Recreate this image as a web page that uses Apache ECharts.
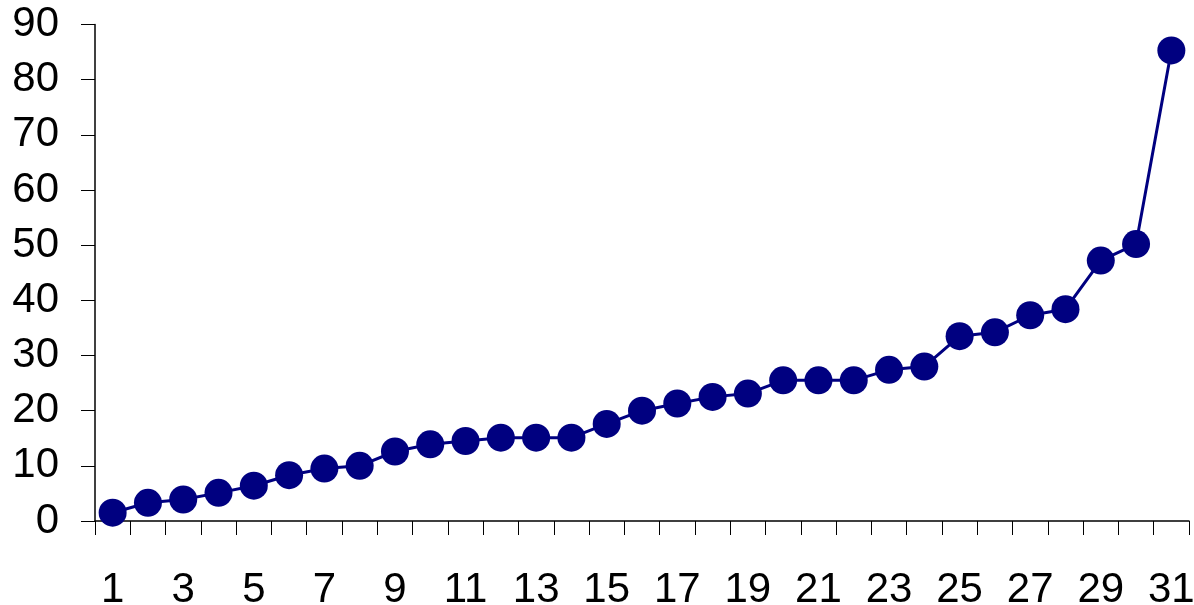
<!DOCTYPE html>
<html>
<head>
<meta charset="utf-8">
<script src="https://cdn.jsdelivr.net/npm/echarts@6/dist/echarts.min.js"></script>
<style>
html,body{margin:0;padding:0;background:#fff;}
#chart{width:1194px;height:605px;}
</style>
</head>
<body>
<div id="chart"></div>
<script>
var categories = ['1','2','3','4','5','6','7','8','9','10','11','12','13','14','15','16','17','18','19','20','21','22','23','24','25','26','27','28','29','30','31'];
var values = [1.5,3.3,3.9,5.1,6.4,8.3,9.5,10.0,12.6,13.9,14.5,15.1,15.1,15.1,17.6,20.0,21.3,22.5,23.1,25.5,25.5,25.5,27.4,28.0,33.5,34.2,37.3,38.4,47.2,50.2,85.3];
var yMin = 0, yMax = 90, yStep = 10;

var chart = echarts.init(document.getElementById('chart'), null, {renderer:'canvas'});
chart.setOption({
  animation: false,
  backgroundColor: '#ffffff',
  grid: {left: 95, right: 5, top: 24.5, bottom: 84, containLabel: false, outerBoundsMode: 'none'},
  xAxis: {
    type: 'category',
    data: categories,
    boundaryGap: true,
    axisLine: {show: true, lineStyle: {color: '#000', width: 1.5}},
    axisTick: {show: true, interval: 0, length: 14, inside: false, alignWithLabel: false, lineStyle: {color: '#000', width: 1}},
    axisLabel: {interval: 1, margin: 48, color: '#000', fontSize: 42, fontFamily: 'Liberation Sans, Arial, sans-serif'},
    splitLine: {show: false}
  },
  yAxis: {
    type: 'value',
    min: yMin, max: yMax, interval: yStep,
    axisLine: {show: true, lineStyle: {color: '#000', width: 1.5}},
    axisTick: {show: true, length: 14, lineStyle: {color: '#000', width: 1}},
    axisLabel: {margin: 36, color: '#000', fontSize: 42, fontFamily: 'Liberation Sans, Arial, sans-serif'},
    splitLine: {show: false}
  },
  series: [{
    type: 'line',
    data: values,
    symbol: 'circle',
    symbolSize: 28,
    showAllSymbol: true,
    lineStyle: {color: '#000080', width: 3},
    itemStyle: {color: '#000080'},
    clip: false
  }]
});
</script>
</body>
</html>
